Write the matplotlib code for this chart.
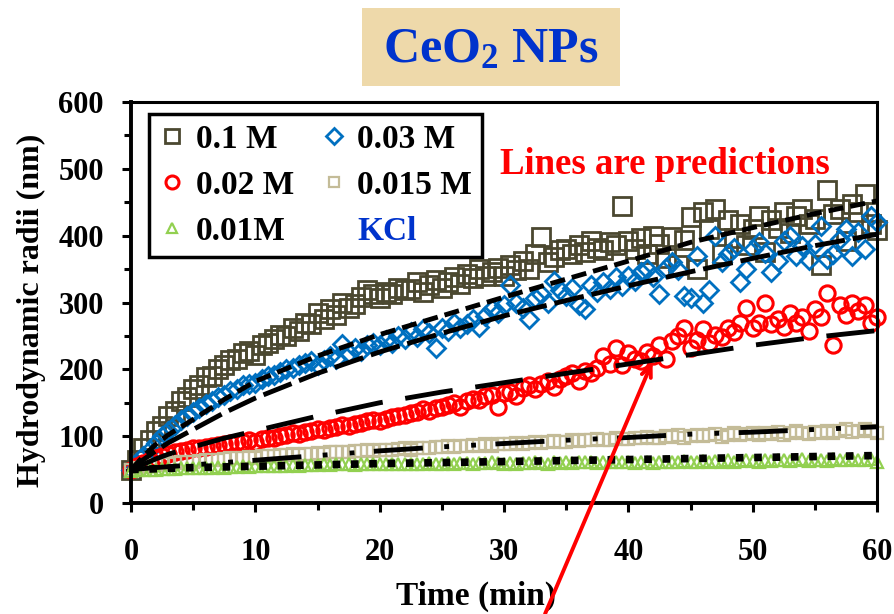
import numpy as np
import matplotlib
matplotlib.use("Agg")
import matplotlib.pyplot as plt
from matplotlib.lines import Line2D
from matplotlib.patches import Rectangle

plt.rcParams['font.family'] = ['Liberation Serif', 'DejaVu Serif']
plt.rcParams['font.weight'] = 'bold'
plt.rcParams['mathtext.fontset'] = 'custom'
plt.rcParams['mathtext.rm'] = 'Liberation Serif:bold'
plt.rcParams['mathtext.bf'] = 'Liberation Serif:bold'
plt.rcParams['mathtext.it'] = 'Liberation Serif:bold'

# ---------------- data ----------------
time_obs = np.arange(0, 60.01, 0.5)

r_01M = [50, 64, 82, 95, 108, 115, 130, 138, 152, 158,
         170, 176, 188, 190, 200, 206, 214, 216, 225, 228,
         222, 236, 240, 246, 252, 250, 262, 258, 270, 268,
         285, 276, 290, 282, 300, 292, 298, 308, 318, 312,
         306, 316, 312, 322, 318, 320, 330, 316, 326, 334,
         322, 330, 338, 328, 342, 336, 350, 340, 346, 352,
         340, 356, 348, 362, 350, 372, 398, 360, 368, 378,
         380, 372, 386, 376, 392, 382, 378, 390, 386, 445,
         392, 380, 396, 372, 400, 388, 366, 398, 356, 394,
         428, 350, 436, 410, 440, 372, 424, 396, 418, 386,
         410, 430, 376, 424, 412, 436, 404, 430, 440, 418,
         425, 356, 468, 432, 440, 392, 448, 436, 462, 418,
         408]

r_003M = [50, 58, 70, 80, 90, 100, 108, 116, 124, 130,
          136, 142, 148, 152, 158, 162, 168, 170, 176, 178,
          180, 186, 190, 192, 196, 200, 202, 206, 210, 212,
          206, 214, 220, 216, 238, 224, 232, 228, 236, 240,
          236, 244, 240, 250, 246, 256, 248, 260, 254, 232,
          262, 258, 270, 262, 268, 276, 264, 280, 290, 284,
          296, 326, 300, 292, 276, 306, 312, 300, 332, 318,
          310, 322, 296, 291, 326, 316, 330, 320, 338, 325,
          340, 332, 346, 350, 338, 312, 352, 360, 348, 310,
          306, 370, 300, 318, 400, 360, 372, 382, 331, 350,
          380, 390, 374, 346, 362, 392, 400, 370, 384, 364,
          388, 415, 365, 372, 395, 410, 370, 405, 380, 430,
          420]

r_002M = [50, 55, 60, 64, 68, 71, 74, 76, 78, 80,
          82, 83, 84, 86, 87, 89, 90, 92, 91, 94,
          92, 96, 98, 97, 100, 102, 104, 103, 106, 108,
          110, 109, 112, 114, 116, 115, 118, 120, 122, 124,
          122, 126, 128, 130, 132, 134, 136, 140, 138, 142,
          144, 146, 150, 144, 152, 156, 154, 160, 162, 144,
          164, 166, 160, 172, 176, 170, 178, 182, 174, 186,
          190, 194, 182, 198, 194, 202, 220, 208, 232, 206,
          224, 216, 212, 226, 220, 236, 216, 242, 250, 262,
          232, 244, 260, 240, 252, 248, 262, 256, 270, 292,
          262, 270, 300, 268, 276, 264, 284, 270, 278, 258,
          290, 278, 314, 236, 296, 282, 300, 288, 296, 270,
          278]

r_0015M = [50, 52, 54, 55, 57, 58, 59, 60, 61, 62,
           62, 63, 64, 65, 65, 66, 67, 67, 68, 69,
           68, 70, 70, 71, 72, 72, 73, 72, 74, 74,
           75, 74, 76, 76, 77, 76, 78, 78, 79, 78,
           80, 79, 80, 81, 82, 80, 82, 83, 82, 84,
           84, 85, 84, 86, 85, 87, 86, 88, 86, 88,
           89, 88, 90, 89, 90, 92, 90, 91, 93, 92,
           92, 94, 93, 95, 94, 96, 95, 94, 97, 96,
           96, 98, 97, 99, 98, 97, 100, 99, 101, 98,
           100, 102, 100, 101, 103, 99, 102, 104, 101, 103,
           104, 102, 105, 103, 106, 101, 104, 107, 105, 103,
           106, 104, 108, 105, 107, 110, 106, 108, 111, 107,
           105]

r_001M = [48, 49, 49, 50, 50, 51, 51, 51, 52, 52,
          52, 53, 52, 53, 54, 53, 54, 54, 55, 54,
          55, 55, 56, 55, 56, 56, 57, 56, 57, 57,
          57, 58, 57, 58, 58, 58, 57, 58, 58, 58,
          58, 59, 58, 59, 59, 58, 59, 59, 60, 59,
          59, 60, 59, 60, 60, 59, 60, 60, 61, 60,
          59, 60, 59, 60, 60, 61, 60, 59, 61, 60,
          61, 60, 61, 62, 61, 60, 62, 61, 62, 61,
          61, 60, 62, 61, 60, 62, 61, 62, 61, 63,
          62, 61, 63, 62, 63, 62, 64, 62, 63, 64,
          63, 62, 64, 63, 64, 65, 63, 64, 66, 63,
          64, 65, 63, 66, 64, 65, 66, 64, 65, 66,
          62]

# predictions (lines)
t_pred_01M = [0, 1, 2, 3, 5, 7.5, 10, 15, 20, 25, 30, 35, 40, 45, 50, 55, 60]
p_01M = [50, 70, 88, 102, 125, 155, 182, 220, 252, 280, 308, 335, 362, 390, 412, 433, 452]
t_pred_003M = [0, 1, 2, 3, 5, 7.5, 10, 15, 20, 25, 30, 35, 40, 45, 50, 55, 60]
p_003M = [50, 65, 78, 90, 110, 135, 157, 194, 226, 254, 280, 303, 325, 346, 366, 385, 402]
t_pred_002M = [0, 1, 2, 3, 5, 7.5, 10, 15, 20, 25, 30, 35, 40, 45, 50, 55, 60]
p_002M = [50, 58, 66, 73, 84, 97, 108, 130, 150, 166, 180, 194, 208, 222, 236, 248, 258]
t_pred_0015M = [0, 2, 5, 10, 15, 20, 25, 30, 35, 40, 45, 50, 55, 60]
p_0015M = [50, 53, 57, 64, 71, 78, 84, 89, 94, 98, 103, 106, 110, 114]
t_pred_001M = [0, 5, 10, 20, 30, 40, 50, 60]
p_001M = [50, 53, 55, 59, 62, 65, 68, 71]

labels = ['0.1 M', '0.03 M', '0.02 M', '0.015 M', '0.01M']
x_ticks = [0, 10, 20, 30, 40, 50, 60]
y_ticks = [0, 100, 200, 300, 400, 500, 600]

# ---------------- figure ----------------
fig = plt.figure(figsize=(8.94, 6.14), dpi=100)
ax = fig.add_axes([131/894, 111/614, 746/894, 401/614])

c01 = '#4b4830'
c003 = '#0070c0'
c002 = '#ff0000'
c0015 = '#c4bc98'
c001 = '#92d050'

st01 = dict(marker='s', ms=12.5, mfc='none', mec=c01, mew=2.0, ls='none')
st003 = dict(marker='D', ms=9, mfc='none', mec=c003, mew=2.0, ls='none')
st002 = dict(marker='o', ms=11, mfc='none', mec=c002, mew=2.2, ls='none')
st0015 = dict(marker='s', ms=8.5, mfc='none', mec=c0015, mew=1.6, ls='none')
st001 = dict(marker='^', ms=8, mfc='none', mec=c001, mew=1.6, ls='none')

ax.plot(time_obs, r_01M, clip_on=False, zorder=2, **st01)
ax.plot(time_obs, r_003M, clip_on=False, zorder=2.1, **st003)
ax.plot(time_obs, r_002M, clip_on=False, zorder=2.2, **st002)
ax.plot(time_obs, r_0015M, clip_on=False, zorder=2.3, **st0015)
ax.plot(time_obs, r_001M, clip_on=False, zorder=2.4, **st001)

lw = 3.5
ax.plot(t_pred_01M, p_01M, color='black', lw=lw, dashes=(3.1, 1.45),
        dash_capstyle='butt', zorder=3)
ax.plot(t_pred_003M, p_003M, color='black', lw=lw, dashes=(6.2, 1.65),
        dash_capstyle='butt', zorder=3)
ax.plot(t_pred_002M, p_002M, color='black', lw=lw, dashes=(9.9, 4.7),
        dash_capstyle='butt', zorder=3)
ax.plot(t_pred_0015M, p_0015M, color='black', lw=lw,
        dashes=(10.1, 4.4, 1.0, 4.55, 1.0, 4.0), dash_capstyle='butt', zorder=3)
ax.plot(t_pred_001M, p_001M, color='black', lw=5.5, dashes=(1.0, 1.4),
        dash_capstyle='butt', zorder=3)

ax.set_xlim(0, 60)
ax.set_ylim(0, 600)
ax.set_xticks(x_ticks)
ax.set_yticks(y_ticks)
ax.set_xticks(np.arange(5, 60, 10), minor=True)
ax.set_yticks(np.arange(50, 600, 100), minor=True)
ax.tick_params(axis='both', which='major', direction='out', length=6.5, width=2.2,
               labelsize=22)
ax.tick_params(axis='both', which='minor', direction='out', length=5, width=2.2)
ax.tick_params(axis='x', which='major', pad=19)
ax.tick_params(axis='y', which='major', pad=13)
for lab in ax.get_xticklabels() + ax.get_yticklabels():
    lab.set_fontweight('bold')

for side in ['left', 'bottom']:
    ax.spines[side].set_linewidth(2.8)
for side in ['top', 'right']:
    ax.spines[side].set_linewidth(2.2)

ax.set_xlabel('Time (min)', fontsize=24, fontweight='bold')
ax.set_ylabel('Hydrodynamic radii (nm)', fontsize=23, fontweight='bold')
ax.xaxis.set_label_coords(0.4625, -0.195)
ax.yaxis.set_label_coords(-0.114, 0.48)

# legend
handles = [Line2D([], [], **st01), Line2D([], [], **st002), Line2D([], [], **st001),
           Line2D([], [], **st003), Line2D([], [], **st0015),
           Line2D([], [], ls='none', marker='none')]
leg_labels = [labels[0], labels[2], labels[4], labels[1], labels[3], 'KCl']
leg = ax.legend(handles, leg_labels, ncol=2, loc='upper left',
                bbox_to_anchor=(0.024, 0.97), frameon=True, fancybox=False,
                edgecolor='black', framealpha=1, borderaxespad=0,
                prop={'family': 'Liberation Serif', 'weight': 'bold', 'size': 24},
                handlelength=0.8, handletextpad=0.3, columnspacing=0.8,
                labelspacing=0.45, borderpad=0.3, markerscale=0.85)
leg.get_frame().set_linewidth(2.5)
leg.get_texts()[-1].set_color('#0033cc')
leg.set_zorder(5)

ax.text(0.495, 0.843, 'Lines are predictions', transform=ax.transAxes,
        color='red', fontsize=26.5, fontweight='bold', ha='left', va='center')

ax.annotate('', xy=(41.95, 212), xytext=(33.3, -166),
            arrowprops=dict(arrowstyle='->,head_length=0.8,head_width=0.35',
                            color='red', lw=2.8, shrinkA=0, shrinkB=0),
            annotation_clip=False, zorder=6)

# title box
fig.patches.append(Rectangle((362/894, (614-86)/614), 258/894, 78/614,
                             transform=fig.transFigure, facecolor='#eed9aa',
                             edgecolor='none', zorder=0))
fig.text(491/894, (614-50)/614, r'CeO$_{2}$ NPs', color='#0033cc', fontsize=36,
         fontweight='bold', ha='center', va='center')

fig.savefig('out.png', dpi=100)
